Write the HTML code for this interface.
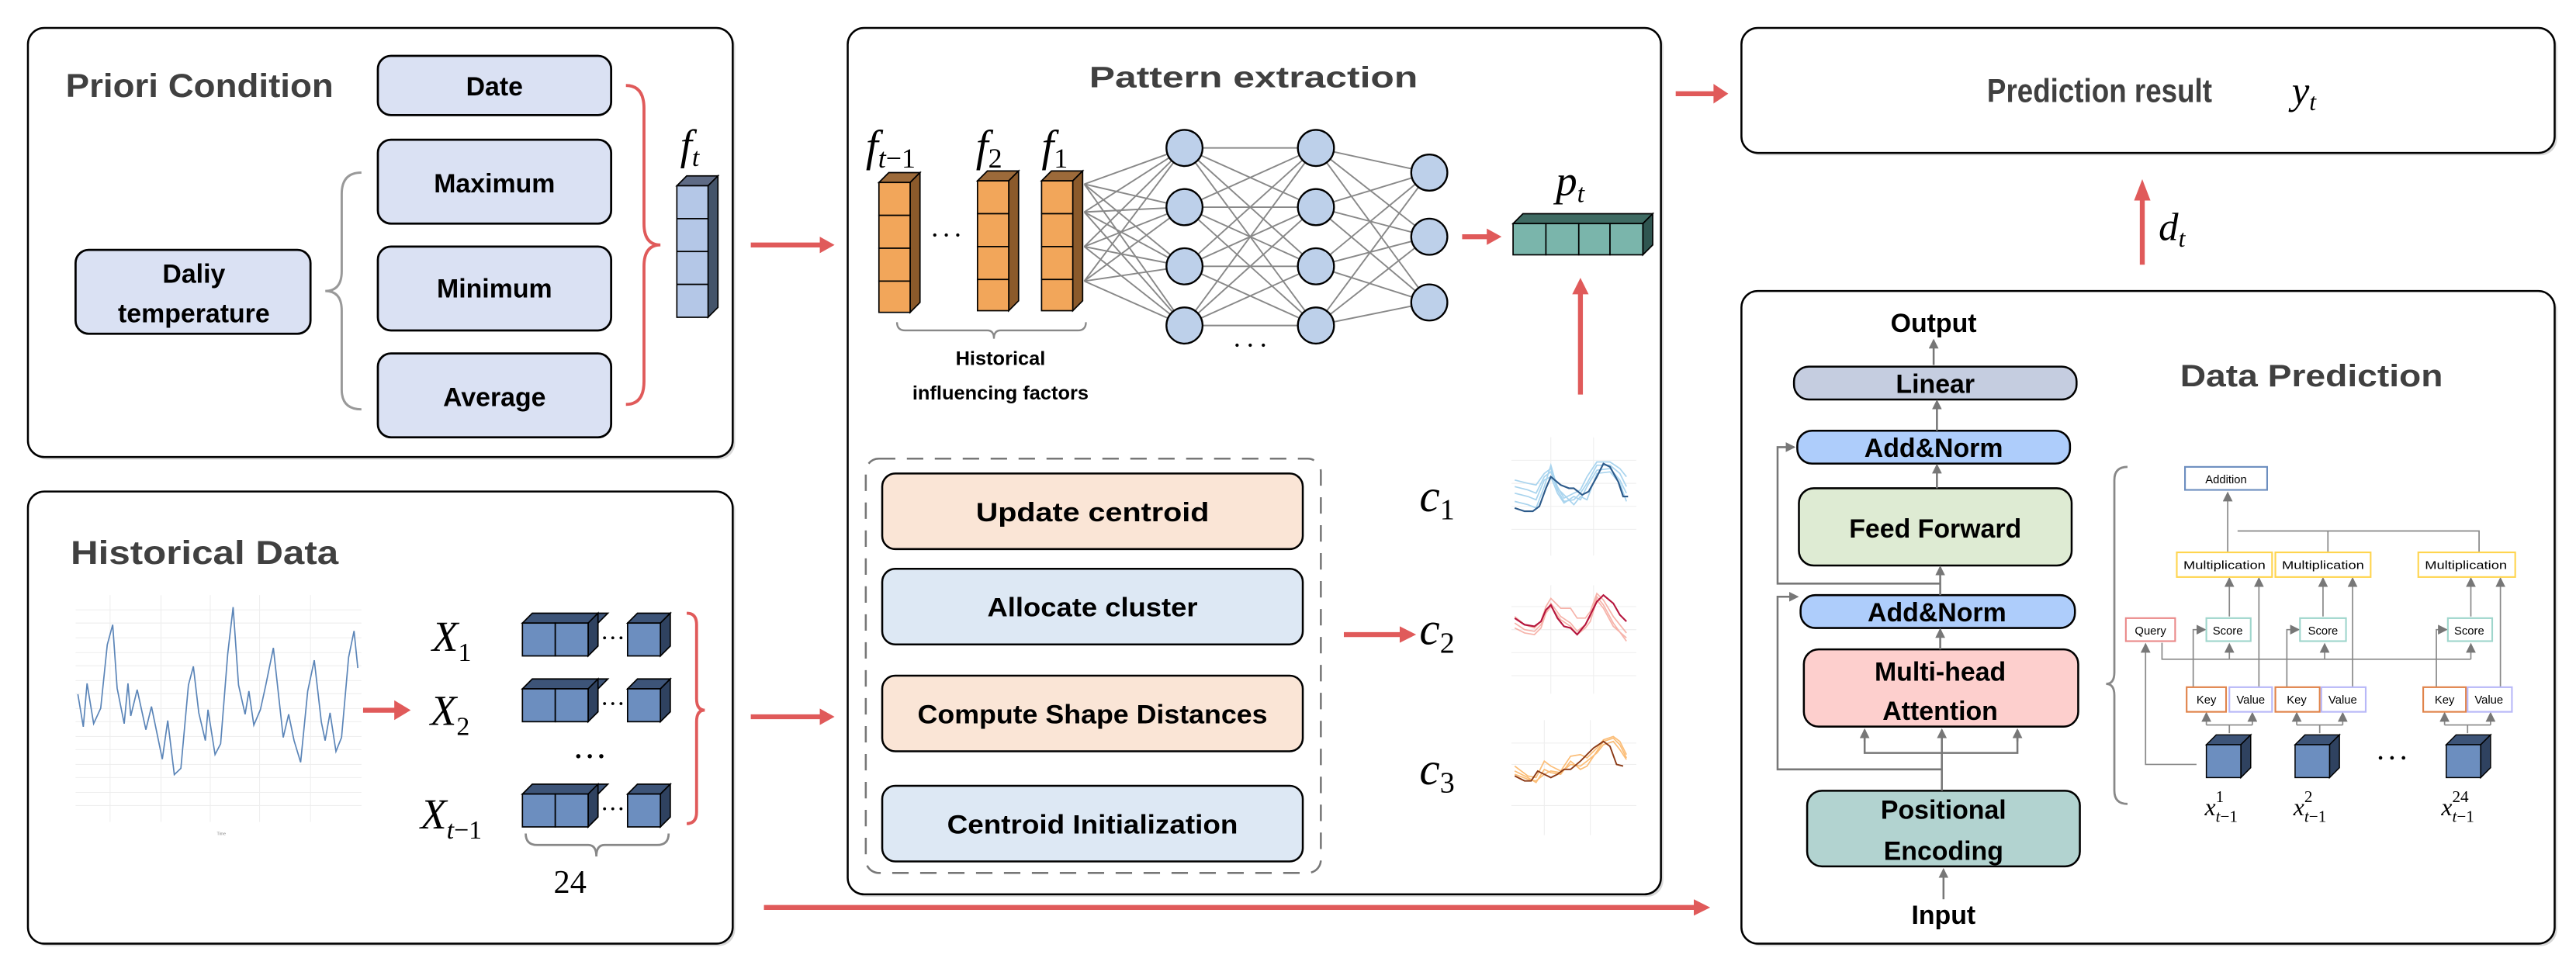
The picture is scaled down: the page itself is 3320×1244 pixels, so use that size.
<!DOCTYPE html>
<html><head><meta charset="utf-8"><style>
html,body{margin:0;padding:0;background:#fff;}
svg{display:block;}
.t{font-family:"Liberation Sans",sans-serif;font-weight:bold;}
.m{font-family:"Liberation Serif",serif;font-style:italic;}
.n{font-style:normal;}
</style></head><body>
<svg width="3320" height="1244" viewBox="0 0 1568 587" preserveAspectRatio="none" xmlns="http://www.w3.org/2000/svg">
<defs>
<marker id="ga" markerWidth="6" markerHeight="6" refX="5" refY="3" orient="auto" markerUnits="userSpaceOnUse"><path d="M0,0 L6,3 L0,6 z" fill="#777"/></marker>
</defs>
<rect width="1568" height="587" fill="#fff"/>

<g fill="#fff" stroke="#000" stroke-width="1.2">
<rect x="18.5" y="18.5" width="429" height="261" rx="10" fill="#d8d8d8" stroke="none"/>
<rect x="17" y="17" width="429" height="261" rx="10"/>
<rect x="18.5" y="300.5" width="429" height="275" rx="10" fill="#d8d8d8" stroke="none"/>
<rect x="17" y="299" width="429" height="275" rx="10"/>
<rect x="517.5" y="18.5" width="495" height="527" rx="10" fill="#d8d8d8" stroke="none"/>
<rect x="516" y="17" width="495" height="527" rx="10"/>
<rect x="1061.5" y="18.5" width="495" height="76" rx="10" fill="#d8d8d8" stroke="none"/>
<rect x="1060" y="17" width="495" height="76" rx="10"/>
<rect x="1061.5" y="178.5" width="495" height="397" rx="10" fill="#d8d8d8" stroke="none"/>
<rect x="1060" y="177" width="495" height="397" rx="10"/>
</g>

<!-- ===== Priori Condition ===== -->
<text x="40" y="59" class="t" font-size="20" fill="#404040" textLength="163" lengthAdjust="spacingAndGlyphs">Priori Condition</text>
<g fill="#dae1f3" stroke="#000" stroke-width="1.3">
<rect x="230" y="34" width="142" height="36" rx="8"/>
<rect x="230" y="85" width="142" height="51" rx="8"/>
<rect x="230" y="150" width="142" height="51" rx="8"/>
<rect x="230" y="215" width="142" height="51" rx="8"/>
<rect x="46" y="152" width="143" height="51" rx="8"/>
</g>
<g class="t" font-size="16" fill="#000" text-anchor="middle">
<text x="301" y="58">Date</text>
<text x="301" y="117">Maximum</text>
<text x="301" y="181">Minimum</text>
<text x="301" y="247">Average</text>
<text x="118" y="172">Daliy</text>
<text x="118" y="196">temperature</text>
</g>
<path d="M220,105 Q208,105 208,118 L208,165 Q208,177 198,177 Q208,177 208,189 L208,237 Q208,249 220,249" fill="none" stroke="#999" stroke-width="1.4"/>
<path d="M381,52 Q392,52 392,66 L392,136 Q392,149 402,149 Q392,149 392,162 L392,232 Q392,246 381,246" fill="none" stroke="#e05a5a" stroke-width="1.8"/>
<text x="414" y="97" class="m" font-size="26">f<tspan font-size="16" dy="4">t</tspan></text>
<g stroke="#000" stroke-width="0.8">
<polygon points="412,113 418,107 437,107 431,113" fill="#5f6b85"/>
<polygon points="431,113 437,107 437,187 431,193" fill="#44546a"/>
<rect x="412" y="113" width="19" height="20" fill="#b4c7e7"/>
<rect x="412" y="133" width="19" height="20" fill="#b4c7e7"/>
<rect x="412" y="153" width="19" height="20" fill="#b4c7e7"/>
<rect x="412" y="173" width="19" height="20" fill="#b4c7e7"/>
</g>

<g stroke="#e05a5a" stroke-width="3" fill="#e05a5a">
<line x1="457" y1="149" x2="500" y2="149"/><polygon points="499,144 508,149 499,154" stroke="none"/>
<line x1="221" y1="432" x2="241" y2="432"/><polygon points="240,426 250,432 240,438" stroke="none"/>
<line x1="457" y1="436" x2="500" y2="436"/><polygon points="499,431 508,436 499,441" stroke="none"/>
<line x1="465" y1="552" x2="1032" y2="552"/><polygon points="1031,547 1041,552 1031,557" stroke="none"/>
<line x1="1020" y1="57" x2="1044" y2="57"/><polygon points="1043,51 1052,57 1043,63" stroke="none"/>
<line x1="1304" y1="161" x2="1304" y2="121"/><polygon points="1299,122 1304,109 1309,122" stroke="none"/>
<line x1="890" y1="144" x2="906" y2="144"/><polygon points="905,139 914,144 905,149" stroke="none"/>
<line x1="962" y1="240" x2="962" y2="178"/><polygon points="957,179 962,169 967,179" stroke="none"/>
<line x1="818" y1="386" x2="853" y2="386"/><polygon points="852,381 862,386 852,391" stroke="none"/>
</g>

<!-- ===== Historical Data ===== -->
<text x="43" y="343" class="t" font-size="20" fill="#404040" textLength="163" lengthAdjust="spacingAndGlyphs">Historical Data</text>
<g stroke="#eee" stroke-width="0.5">
<line x1="46" y1="371" x2="220" y2="371"/><line x1="46" y1="379" x2="220" y2="379"/><line x1="46" y1="388" x2="220" y2="388"/><line x1="46" y1="397" x2="220" y2="397"/><line x1="46" y1="405" x2="220" y2="405"/><line x1="46" y1="414" x2="220" y2="414"/><line x1="46" y1="422" x2="220" y2="422"/><line x1="46" y1="431" x2="220" y2="431"/><line x1="46" y1="439" x2="220" y2="439"/><line x1="46" y1="448" x2="220" y2="448"/><line x1="46" y1="456" x2="220" y2="456"/><line x1="46" y1="465" x2="220" y2="465"/><line x1="46" y1="473" x2="220" y2="473"/><line x1="46" y1="482" x2="220" y2="482"/><line x1="46" y1="490" x2="220" y2="490"/>
<line x1="67" y1="362" x2="67" y2="500"/><line x1="98" y1="362" x2="98" y2="500"/><line x1="128" y1="362" x2="128" y2="500"/><line x1="158" y1="362" x2="158" y2="500"/><line x1="189" y1="362" x2="189" y2="500"/>
</g>
<polyline fill="none" stroke="#5b85b8" stroke-width="0.8" points="47.4,422.3 50.7,442.1 53,415.7 57,440.2 61.3,430.8 65.3,392.2 68.6,380 71.3,418.6 75.6,440.2 77.9,415.7 79.6,435.5 83.5,419.5 88.8,443.9 92.2,429.8 98.8,461.8 102.1,438.3 106.1,471.2 110.1,467.4 114.7,416.7 117.7,405.4 121,433.6 125,450.5 126.6,431.7 130.9,459 134.3,452.4 138.6,397.9 141.9,369.3 145.2,416.7 149.2,434.5 151.5,420.4 154.5,441.1 158.5,431.7 161.8,416.7 166.4,394.1 172.4,448.6 175.7,434.5 179,450.5 183,463.7 187.3,420.4 191.3,401.6 195.6,439.2 197.9,450.5 200.9,433.6 204.5,457.1 207.9,448.6 212.2,399.8 215.5,383.8 217.8,406.3"/>
<g font-family="Liberation Sans,sans-serif" font-size="2.5" fill="#888"><text x="132" y="508">Time</text></g>
<g class="m" font-size="26">
<text x="263" y="396">X<tspan class="n" font-size="16" dy="6">1</tspan></text>
<text x="262" y="441">X<tspan class="n" font-size="16" dy="6">2</tspan></text>
<text x="256" y="504">X<tspan font-size="16" dy="6">t</tspan><tspan class="n" font-size="16">−1</tspan></text>
</g>
<g stroke="#000" stroke-width="0.8">
<polygon points="318,379 324,373 370,373 364,379" fill="#3d5478"/>
<polygon points="358,379 364,373 364,393 358,399" fill="#2f4260"/>
<rect x="318" y="379" width="20" height="20" fill="#6c8ebf"/><rect x="338" y="379" width="20" height="20" fill="#6c8ebf"/>
<polygon points="382,379 388,373 408,373 402,379" fill="#3d5478"/>
<polygon points="402,379 408,373 408,393 402,399" fill="#2f4260"/>
<rect x="382" y="379" width="20" height="20" fill="#6c8ebf"/>
<polygon points="318,419 324,413 370,413 364,419" fill="#3d5478"/>
<polygon points="358,419 364,413 364,433 358,439" fill="#2f4260"/>
<rect x="318" y="419" width="20" height="20" fill="#6c8ebf"/><rect x="338" y="419" width="20" height="20" fill="#6c8ebf"/>
<polygon points="382,419 388,413 408,413 402,419" fill="#3d5478"/>
<polygon points="402,419 408,413 408,433 402,439" fill="#2f4260"/>
<rect x="382" y="419" width="20" height="20" fill="#6c8ebf"/>
<polygon points="318,483 324,477 370,477 364,483" fill="#3d5478"/>
<polygon points="358,483 364,477 364,497 358,503" fill="#2f4260"/>
<rect x="318" y="483" width="20" height="20" fill="#6c8ebf"/><rect x="338" y="483" width="20" height="20" fill="#6c8ebf"/>
<polygon points="382,483 388,477 408,477 402,483" fill="#3d5478"/>
<polygon points="402,483 408,477 408,497 402,503" fill="#2f4260"/>
<rect x="382" y="483" width="20" height="20" fill="#6c8ebf"/>
</g>
<g fill="#000"><circle cx="368" cy="388" r="0.9"/><circle cx="373" cy="388" r="0.9"/><circle cx="378" cy="388" r="0.9"/>
<circle cx="368" cy="428" r="0.9"/><circle cx="373" cy="428" r="0.9"/><circle cx="378" cy="428" r="0.9"/>
<circle cx="368" cy="492" r="0.9"/><circle cx="373" cy="492" r="0.9"/><circle cx="378" cy="492" r="0.9"/>
<circle cx="352" cy="460" r="1.3"/><circle cx="359" cy="460" r="1.3"/><circle cx="366" cy="460" r="1.3"/></g>
<path d="M418,373 Q424,373 424,380 L424,425 Q424,432 429,432 Q424,432 424,439 L424,494 Q424,501 418,501" fill="none" stroke="#e05a5a" stroke-width="1.8"/>
<path d="M320,507 Q320,514 327,514 L358,514 Q363,514 363,521 Q363,514 368,514 L400,514 Q407,514 407,507" fill="none" stroke="#888" stroke-width="1.3"/>
<text x="347" y="543" font-family="Liberation Serif,serif" font-size="20" text-anchor="middle">24</text>

<!-- ===== Pattern extraction ===== -->
<text x="763" y="53" class="t" font-size="18" fill="#404040" text-anchor="middle" textLength="200" lengthAdjust="spacingAndGlyphs">Pattern extraction</text>
<g class="m" font-size="27">
<text x="527" y="98">f<tspan font-size="17" dy="4">t</tspan><tspan class="n" font-size="17">−1</tspan></text>
<text x="594" y="98">f<tspan class="n" font-size="17" dy="4">2</tspan></text>
<text x="634" y="98">f<tspan class="n" font-size="17" dy="4">1</tspan></text>
</g>
<g stroke="#888" stroke-width="0.9">
<line x1="660" y1="112" x2="721" y2="90"/><line x1="660" y1="112" x2="721" y2="126"/><line x1="660" y1="112" x2="721" y2="162"/><line x1="660" y1="112" x2="721" y2="198"/>
<line x1="660" y1="129" x2="721" y2="90"/><line x1="660" y1="129" x2="721" y2="126"/><line x1="660" y1="129" x2="721" y2="162"/><line x1="660" y1="129" x2="721" y2="198"/>
<line x1="660" y1="150" x2="721" y2="90"/><line x1="660" y1="150" x2="721" y2="126"/><line x1="660" y1="150" x2="721" y2="162"/><line x1="660" y1="150" x2="721" y2="198"/>
<line x1="660" y1="171" x2="721" y2="90"/><line x1="660" y1="171" x2="721" y2="126"/><line x1="660" y1="171" x2="721" y2="162"/><line x1="660" y1="171" x2="721" y2="198"/>
<line x1="721" y1="90" x2="801" y2="90"/><line x1="721" y1="90" x2="801" y2="126"/><line x1="721" y1="90" x2="801" y2="162"/><line x1="721" y1="90" x2="801" y2="198"/>
<line x1="721" y1="126" x2="801" y2="90"/><line x1="721" y1="126" x2="801" y2="126"/><line x1="721" y1="126" x2="801" y2="162"/><line x1="721" y1="126" x2="801" y2="198"/>
<line x1="721" y1="162" x2="801" y2="90"/><line x1="721" y1="162" x2="801" y2="126"/><line x1="721" y1="162" x2="801" y2="162"/><line x1="721" y1="162" x2="801" y2="198"/>
<line x1="721" y1="198" x2="801" y2="90"/><line x1="721" y1="198" x2="801" y2="126"/><line x1="721" y1="198" x2="801" y2="162"/><line x1="721" y1="198" x2="801" y2="198"/>
<line x1="801" y1="90" x2="870" y2="105"/><line x1="801" y1="90" x2="870" y2="144"/><line x1="801" y1="90" x2="870" y2="184"/>
<line x1="801" y1="126" x2="870" y2="105"/><line x1="801" y1="126" x2="870" y2="144"/><line x1="801" y1="126" x2="870" y2="184"/>
<line x1="801" y1="162" x2="870" y2="105"/><line x1="801" y1="162" x2="870" y2="144"/><line x1="801" y1="162" x2="870" y2="184"/>
<line x1="801" y1="198" x2="870" y2="105"/><line x1="801" y1="198" x2="870" y2="144"/><line x1="801" y1="198" x2="870" y2="184"/>
</g>
<g fill="#bdd0ea" stroke="#000" stroke-width="1.1">
<circle cx="721" cy="90" r="11"/><circle cx="721" cy="126" r="11"/><circle cx="721" cy="162" r="11"/><circle cx="721" cy="198" r="11"/>
<circle cx="801" cy="90" r="11"/><circle cx="801" cy="126" r="11"/><circle cx="801" cy="162" r="11"/><circle cx="801" cy="198" r="11"/>
<circle cx="870" cy="105" r="11"/><circle cx="870" cy="144" r="11"/><circle cx="870" cy="184" r="11"/>
</g>
<g fill="#000"><circle cx="753" cy="210" r="1"/><circle cx="761" cy="210" r="1"/><circle cx="769" cy="210" r="1"/>
<circle cx="569" cy="143" r="1"/><circle cx="576" cy="143" r="1"/><circle cx="583" cy="143" r="1"/></g>
<g stroke="#000" stroke-width="0.8">
<polygon points="535,111 541,105 560,105 554,111" fill="#9c6a3a"/><polygon points="554,111 560,105 560,184 554,190" fill="#8b5a2b"/>
<rect x="535" y="111" width="19" height="20" fill="#f2a65a"/><rect x="535" y="131" width="19" height="20" fill="#f2a65a"/><rect x="535" y="151" width="19" height="20" fill="#f2a65a"/><rect x="535" y="171" width="19" height="19" fill="#f2a65a"/>
<polygon points="595,110 601,104 620,104 614,110" fill="#9c6a3a"/><polygon points="614,110 620,104 620,183 614,189" fill="#8b5a2b"/>
<rect x="595" y="110" width="19" height="20" fill="#f2a65a"/><rect x="595" y="130" width="19" height="20" fill="#f2a65a"/><rect x="595" y="150" width="19" height="20" fill="#f2a65a"/><rect x="595" y="170" width="19" height="19" fill="#f2a65a"/>
<polygon points="634,110 640,104 659,104 653,110" fill="#9c6a3a"/><polygon points="653,110 659,104 659,183 653,189" fill="#8b5a2b"/>
<rect x="634" y="110" width="19" height="20" fill="#f2a65a"/><rect x="634" y="130" width="19" height="20" fill="#f2a65a"/><rect x="634" y="150" width="19" height="20" fill="#f2a65a"/><rect x="634" y="170" width="19" height="19" fill="#f2a65a"/>
</g>
<path d="M546,196 Q546,201 551,201 L601,201 Q605,201 605,206 Q605,201 609,201 L656,201 Q661,201 661,196" fill="none" stroke="#888" stroke-width="1.1"/>
<g class="t" font-size="12" text-anchor="middle" fill="#000">
<text x="609" y="222">Historical</text>
<text x="609" y="243">influencing factors</text>
</g>
<text x="947" y="119" class="m" font-size="26">p<tspan font-size="16" dy="4">t</tspan></text>
<g stroke="#000" stroke-width="0.8">
<polygon points="921,136 927,130 1006,130 1000,136" fill="#3f6b63"/>
<polygon points="1000,136 1006,130 1006,149 1000,155" fill="#2f5550"/>
<rect x="921" y="136" width="20" height="19" fill="#7ab5ab"/><rect x="941" y="136" width="20" height="19" fill="#7ab5ab"/><rect x="961" y="136" width="19" height="19" fill="#7ab5ab"/><rect x="980" y="136" width="20" height="19" fill="#7ab5ab"/>
</g>
<rect x="527" y="279" width="277" height="252" rx="8" fill="none" stroke="#777" stroke-width="1.2" stroke-dasharray="10,7"/>
<g stroke="#000" stroke-width="1.2">
<rect x="537" y="288" width="256" height="46" rx="8" fill="#fae5d6"/>
<rect x="537" y="346" width="256" height="46" rx="8" fill="#dde8f4"/>
<rect x="537" y="411" width="256" height="46" rx="8" fill="#fae5d6"/>
<rect x="537" y="478" width="256" height="46" rx="8" fill="#dde8f4"/>
</g>
<g class="t" font-size="16" text-anchor="middle" fill="#000">
<text x="665" y="317" textLength="142" lengthAdjust="spacingAndGlyphs">Update centroid</text>
<text x="665" y="375" textLength="128" lengthAdjust="spacingAndGlyphs">Allocate cluster</text>
<text x="665" y="440" textLength="213" lengthAdjust="spacingAndGlyphs">Compute Shape Distances</text>
<text x="665" y="507" textLength="177" lengthAdjust="spacingAndGlyphs">Centroid Initialization</text>
</g>
<g class="m" font-size="28">
<text x="864" y="311">c<tspan class="n" font-size="18" dy="5">1</tspan></text>
<text x="864" y="392">c<tspan class="n" font-size="18" dy="5">2</tspan></text>
<text x="864" y="477">c<tspan class="n" font-size="18" dy="5">3</tspan></text>
</g>
<g stroke="#eee" stroke-width="0.5">
<line x1="920" y1="280" x2="996" y2="280"/><line x1="920" y1="294" x2="996" y2="294"/><line x1="920" y1="308" x2="996" y2="308"/><line x1="920" y1="322" x2="996" y2="322"/><line x1="944" y1="266" x2="944" y2="338"/><line x1="970" y1="266" x2="970" y2="338"/>
<line x1="920" y1="369" x2="996" y2="369"/><line x1="920" y1="383" x2="996" y2="383"/><line x1="920" y1="397" x2="996" y2="397"/><line x1="920" y1="411" x2="996" y2="411"/><line x1="944" y1="356" x2="944" y2="422"/><line x1="970" y1="356" x2="970" y2="422"/>
<line x1="920" y1="452" x2="996" y2="452"/><line x1="920" y1="465" x2="996" y2="465"/><line x1="920" y1="490" x2="996" y2="490"/><line x1="940" y1="438" x2="940" y2="508"/><line x1="968" y1="438" x2="968" y2="508"/>
</g>
<g fill="none" stroke-width="0.8">
<g stroke="#a9d4ee">
<polyline points="922,292 930,294 935,295 940,288 944,285 948,296 952,303 958,300 962,298 966,290 972,281 980,281 986,285 990,290"/>
<polyline points="922,296 930,298 935,300 940,290 944,287 948,298 952,305 958,304 962,300 966,294 972,283 980,283 986,288 990,296"/>
<polyline points="922,300 930,302 935,304 940,292 944,290 948,300 952,306 958,302 962,304 966,296 972,286 980,285 986,292 990,300"/>
<polyline points="922,305 930,307 935,309 940,296 944,283 948,297 952,301 958,307 962,302 966,304 972,288 980,287 986,294 990,305"/>
</g>
<polyline stroke="#2c5a8a" stroke-width="1" points="922,309 928,311 933,311 937,308 941,297 944,290 950,295 955,297 958,297 963,301 967,299 972,290 976,282 980,284 985,293 988,302 991,302"/>
<g stroke="#f6b3aa">
<polyline points="922,375 928,380 934,382 938,378 941,369 944,364 950,370 956,370 960,376 965,376 968,372 972,361 976,365 982,375 990,385"/>
<polyline points="922,379 928,383 934,384 938,380 941,372 944,367 950,375 956,379 960,384 965,380 968,375 972,363 976,368 982,379 990,390"/>
<polyline points="922,382 928,385 934,386 938,382 941,373 944,369 950,377 956,381 960,386 965,382 968,378 972,365 976,370 982,381 990,388"/>
</g>
<polyline stroke="#b5143c" stroke-width="1" points="922,376 928,380 934,381 938,378 941,371 944,368 948,376 952,381 956,382 960,386 965,380 968,374 972,366 976,362 982,367 986,374 990,378"/>
<g stroke="#fbbd77">
<polyline points="922,466 930,472 935,473 940,463 944,466 950,469 956,460 962,459 966,461 972,455 976,450 982,448 986,451 990,459"/>
<polyline points="922,469 930,473 935,476 940,468 944,470 950,471 956,463 962,468 966,466 972,457 976,451 982,449 986,453 990,461"/>
<polyline points="922,471 930,474 935,475 940,471 944,469 950,470 956,465 962,466 966,463 972,458 976,453 982,451 986,456 990,462"/>
</g>
<polyline stroke="#8b3a16" stroke-width="0.9" points="922,472 928,475 932,475 936,469 940,471 944,473 948,471 952,468 956,468 962,463 966,459 970,455 976,451 980,454 984,465 988,466"/>
</g>

<!-- ===== Prediction result ===== -->
<text x="1278" y="62" class="t" font-size="20" fill="#404040" text-anchor="middle" textLength="137" lengthAdjust="spacingAndGlyphs">Prediction result</text>
<text x="1395" y="63" class="m" font-size="24">y<tspan font-size="15" dy="4">t</tspan></text>
<text x="1314" y="146" class="m" font-size="24">d<tspan font-size="15" dy="4">t</tspan></text>

<!-- ===== Data Prediction ===== -->
<text x="1407" y="235" class="t" font-size="19" fill="#404040" text-anchor="middle" textLength="160" lengthAdjust="spacingAndGlyphs">Data Prediction</text>
<g stroke="#000" stroke-width="1.2">
<rect x="1092" y="223" width="172" height="20" rx="9" fill="#c5cde0"/>
<rect x="1094" y="262" width="166" height="20" rx="9" fill="#aecdfb"/>
<rect x="1095" y="297" width="166" height="47" rx="9" fill="#deebd3"/>
<rect x="1096" y="362" width="167" height="20" rx="9" fill="#aecdfb"/>
<rect x="1098" y="395" width="167" height="47" rx="9" fill="#fdcfcd"/>
<rect x="1100" y="481" width="166" height="46" rx="9" fill="#b2d3d0"/>
</g>
<g class="t" font-size="16" text-anchor="middle" fill="#000">
<text x="1177" y="202">Output</text>
<text x="1178" y="239">Linear</text>
<text x="1177" y="278">Add&amp;Norm</text>
<text x="1178" y="327">Feed Forward</text>
<text x="1179" y="378">Add&amp;Norm</text>
<text x="1181" y="414">Multi-head</text>
<text x="1181" y="438">Attention</text>
<text x="1183" y="498">Positional</text>
<text x="1183" y="523">Encoding</text>
<text x="1183" y="562">Input</text>
</g>
<g stroke="#777" stroke-width="1.2" fill="none">
<line x1="1177" y1="222" x2="1177" y2="207" marker-end="url(#ga)"/>
<line x1="1179" y1="262" x2="1179" y2="244" marker-end="url(#ga)"/>
<line x1="1179" y1="297" x2="1179" y2="283" marker-end="url(#ga)"/>
<line x1="1181" y1="362" x2="1181" y2="345" marker-end="url(#ga)"/>
<line x1="1181" y1="395" x2="1181" y2="383" marker-end="url(#ga)"/>
<line x1="1183" y1="547" x2="1183" y2="529" marker-end="url(#ga)"/>
<line x1="1182" y1="481" x2="1182" y2="444" marker-end="url(#ga)"/>
<polyline points="1135,444 1135,458 1228,458 1228,444"/>
<line x1="1135" y1="451" x2="1135" y2="444" marker-end="url(#ga)"/>
<line x1="1228" y1="451" x2="1228" y2="444" marker-end="url(#ga)"/>
<polyline points="1182,468 1082,468 1082,363 1094,363" marker-end="url(#ga)"/>
<polyline points="1181,355 1082,355 1082,272 1092,272" marker-end="url(#ga)"/>
</g>
<path d="M1295,284 Q1287,284 1287,292 L1287,409 Q1287,416 1282,416 Q1287,416 1287,423 L1287,481 Q1287,489 1295,489" fill="none" stroke="#888" stroke-width="1.3"/>
<g fill="none" stroke="#888" stroke-width="0.8">
<line x1="1356" y1="336" x2="1356" y2="300" marker-end="url(#ga)"/>
<polyline points="1362,323 1509,323 1509,336"/>
<line x1="1417" y1="323" x2="1417" y2="336"/>
<line x1="1357" y1="375" x2="1357" y2="352" marker-end="url(#ga)"/>
<line x1="1414" y1="375" x2="1414" y2="352" marker-end="url(#ga)"/>
<line x1="1504" y1="375" x2="1504" y2="352" marker-end="url(#ga)"/>
<line x1="1375" y1="418" x2="1375" y2="352" marker-end="url(#ga)"/>
<line x1="1432" y1="418" x2="1432" y2="352" marker-end="url(#ga)"/>
<line x1="1522" y1="418" x2="1522" y2="352" marker-end="url(#ga)"/>
<polyline points="1335,418 1335,383 1342,383" marker-end="url(#ga)"/>
<polyline points="1392,418 1392,383 1399,383" marker-end="url(#ga)"/>
<polyline points="1483,418 1483,383 1489,383" marker-end="url(#ga)"/>
<polyline points="1316,391 1316,401 1504,401"/>
<line x1="1357" y1="401" x2="1357" y2="392" marker-end="url(#ga)"/>
<line x1="1415" y1="401" x2="1415" y2="392" marker-end="url(#ga)"/>
<line x1="1504" y1="401" x2="1504" y2="392" marker-end="url(#ga)"/>
<polyline points="1337,465 1306,465 1306,392" marker-end="url(#ga)"/>
<polyline points="1343,441 1371,441"/><line x1="1343" y1="441" x2="1343" y2="434" marker-end="url(#ga)"/><line x1="1371" y1="441" x2="1371" y2="434" marker-end="url(#ga)"/><line x1="1357" y1="446" x2="1357" y2="441"/>
<polyline points="1398,441 1426,441"/><line x1="1398" y1="441" x2="1398" y2="434" marker-end="url(#ga)"/><line x1="1426" y1="441" x2="1426" y2="434" marker-end="url(#ga)"/><line x1="1412" y1="446" x2="1412" y2="441"/>
<polyline points="1488,441 1516,441"/><line x1="1488" y1="441" x2="1488" y2="434" marker-end="url(#ga)"/><line x1="1516" y1="441" x2="1516" y2="434" marker-end="url(#ga)"/><line x1="1502" y1="446" x2="1502" y2="441"/>
</g>
<g fill="#fff" stroke-width="1">
<rect x="1330" y="284" width="50" height="14" stroke="#6c8ebf"/>
<rect x="1325" y="336" width="58" height="15" stroke="#ffd54f"/>
<rect x="1385" y="336" width="58" height="15" stroke="#ffd54f"/>
<rect x="1472" y="336" width="59" height="15" stroke="#ffd54f"/>
<rect x="1294" y="376" width="30" height="14" stroke="#ea8a8a"/>
<rect x="1343" y="376" width="27" height="14" stroke="#9fd6cc"/>
<rect x="1400" y="376" width="28" height="14" stroke="#9fd6cc"/>
<rect x="1490" y="376" width="27" height="14" stroke="#9fd6cc"/>
<rect x="1331" y="418" width="24" height="15" stroke="#e0834a"/>
<rect x="1357" y="418" width="26" height="15" stroke="#b8b8f8"/>
<rect x="1385" y="418" width="27" height="15" stroke="#e0834a"/>
<rect x="1413" y="418" width="27" height="15" stroke="#b8b8f8"/>
<rect x="1475" y="418" width="26" height="15" stroke="#e0834a"/>
<rect x="1502" y="418" width="27" height="15" stroke="#b8b8f8"/>
</g>
<g font-family="Liberation Sans,sans-serif" font-size="7" text-anchor="middle" fill="#000">
<text x="1355" y="294">Addition</text>
<text x="1354" y="346" textLength="50" lengthAdjust="spacingAndGlyphs">Multiplication</text>
<text x="1414" y="346" textLength="50" lengthAdjust="spacingAndGlyphs">Multiplication</text>
<text x="1501" y="346" textLength="50" lengthAdjust="spacingAndGlyphs">Multiplication</text>
<text x="1309" y="386">Query</text>
<text x="1356" y="386">Score</text>
<text x="1414" y="386">Score</text>
<text x="1503" y="386">Score</text>
<text x="1343" y="428">Key</text><text x="1370" y="428">Value</text>
<text x="1398" y="428">Key</text><text x="1426" y="428">Value</text>
<text x="1488" y="428">Key</text><text x="1515" y="428">Value</text>
</g>
<g stroke="#000" stroke-width="0.7">
<polygon points="1343,453 1349,447 1370,447 1364,453" fill="#3d5478"/><polygon points="1364,453 1370,447 1370,467 1364,473" fill="#2f4260"/><rect x="1343" y="453" width="21" height="20" fill="#6c8ebf"/>
<polygon points="1397,453 1403,447 1424,447 1418,453" fill="#3d5478"/><polygon points="1418,453 1424,447 1424,467 1418,473" fill="#2f4260"/><rect x="1397" y="453" width="21" height="20" fill="#6c8ebf"/>
<polygon points="1489,453 1495,447 1516,447 1510,453" fill="#3d5478"/><polygon points="1510,453 1516,447 1516,467 1510,473" fill="#2f4260"/><rect x="1489" y="453" width="21" height="20" fill="#6c8ebf"/>
</g>
<g fill="#000"><circle cx="1449" cy="461" r="1.1"/><circle cx="1456" cy="461" r="1.1"/><circle cx="1463" cy="461" r="1.1"/></g>
<g class="m" font-size="15">
<text x="1342" y="496">x<tspan class="n" font-size="10" dy="-8">1</tspan><tspan font-size="10" dx="-5" dy="12">t</tspan><tspan class="n" font-size="10">−1</tspan></text>
<text x="1396" y="496">x<tspan class="n" font-size="10" dy="-8">2</tspan><tspan font-size="10" dx="-5" dy="12">t</tspan><tspan class="n" font-size="10">−1</tspan></text>
<text x="1486" y="496">x<tspan class="n" font-size="10" dy="-8">24</tspan><tspan font-size="10" dx="-10" dy="12">t</tspan><tspan class="n" font-size="10">−1</tspan></text>
</g>
</svg>
</body></html>
